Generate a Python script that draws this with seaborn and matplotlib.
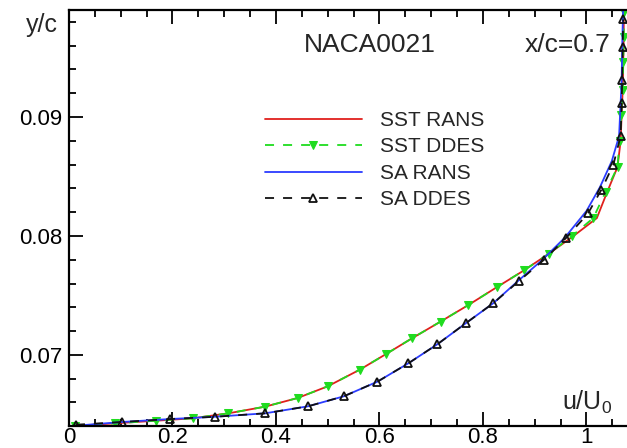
import matplotlib
matplotlib.use("Agg")
import matplotlib.pyplot as plt
from matplotlib.ticker import MultipleLocator
import seaborn as sns
import pandas as pd

# velocity profiles at x/c = 0.7, NACA0021
sst_dd_u = [0.0116, 0.089, 0.169, 0.239, 0.308, 0.379, 0.442, 0.500, 0.562, 0.613,
            0.663, 0.718, 0.772, 0.827, 0.879, 0.927, 0.972, 1.013, 1.037, 1.060,
            1.064, 1.067, 1.070, 1.071, 1.072, 1.072]
sst_dd_y = [0.06405, 0.06425, 0.06447, 0.06467, 0.06509, 0.06565, 0.06638, 0.06736,
            0.06876, 0.07008, 0.0714, 0.0728, 0.0742, 0.0757, 0.0771, 0.0785, 0.0800,
            0.0815, 0.0837, 0.0858, 0.0880, 0.0902, 0.0923, 0.0946, 0.0967, 0.0988]

sa_dd_u = [0.0135, 0.102, 0.196, 0.282, 0.379, 0.462, 0.531, 0.596, 0.656, 0.712,
           0.767, 0.820, 0.870, 0.918, 0.961, 1.003, 1.029, 1.052, 1.066, 1.068,
           1.069, 1.070, 1.071]
sa_dd_y = [0.06413, 0.06436, 0.06461, 0.0648, 0.06509, 0.06568, 0.06652, 0.06775,
           0.0693, 0.0709, 0.07267, 0.07435, 0.07623, 0.0780, 0.07985, 0.0819, 0.0839,
           0.0860, 0.0884, 0.0912, 0.0931, 0.0959, 0.0982]

sst_rans_u = [0.0, 0.089, 0.169, 0.239, 0.308, 0.379, 0.442, 0.500, 0.562, 0.613,
              0.663, 0.718, 0.772, 0.827, 0.879, 0.927, 0.975, 1.020, 1.040, 1.060,
              1.066, 1.068, 1.070, 1.071, 1.072, 1.072]
sst_rans_y = [0.06400, 0.06425, 0.06447, 0.06467, 0.06509, 0.06565, 0.06638, 0.06736,
              0.06876, 0.07008, 0.0714, 0.0728, 0.0742, 0.0757, 0.0771, 0.0785, 0.0800,
              0.0815, 0.0837, 0.0858, 0.0880, 0.0902, 0.0923, 0.0946, 0.0967, 0.0995]

sa_rans_u = [0.0, 0.102, 0.196, 0.282, 0.379, 0.462, 0.531, 0.596, 0.656, 0.712,
             0.767, 0.820, 0.868, 0.915, 0.958, 1.000, 1.026, 1.049, 1.063, 1.066,
             1.068, 1.069, 1.071]
sa_rans_y = [0.06400, 0.06436, 0.06461, 0.0648, 0.06509, 0.06568, 0.06652, 0.06775,
             0.0693, 0.0709, 0.07267, 0.07435, 0.07623, 0.0780, 0.07985, 0.0821, 0.0841,
             0.0863, 0.0884, 0.0912, 0.0931, 0.0959, 0.0995]

sns.set_style("ticks")
plt.rcParams['font.family'] = ['Liberation Sans', 'DejaVu Sans']
plt.rcParams['mathtext.default'] = 'regular'

fig = plt.figure(figsize=(6.27, 4.48), dpi=100)
ax = fig.add_axes([0.110, 0.0498, 0.890, 0.928])

d1 = pd.DataFrame({'u': sst_rans_u, 'y': sst_rans_y})
d2 = pd.DataFrame({'u': sst_dd_u, 'y': sst_dd_y})
d3 = pd.DataFrame({'u': sa_rans_u, 'y': sa_rans_y})
d4 = pd.DataFrame({'u': sa_dd_u, 'y': sa_dd_y})

sns.lineplot(data=d1, x='u', y='y', sort=False, estimator=None, ax=ax,
             color='#e0201c', lw=1.3, label='SST RANS')
sns.lineplot(data=d2, x='u', y='y', sort=False, estimator=None, ax=ax,
             color='#1fdc1f', lw=1.3, ls=(0, (5, 5)), marker='v', ms=5.5,
             mec='#1fdc1f', mfc='#1fdc1f', label='SST DDES')
sns.lineplot(data=d3, x='u', y='y', sort=False, estimator=None, ax=ax,
             color='#2b3cff', lw=1.3, label='SA RANS')
sns.lineplot(data=d4, x='u', y='y', sort=False, estimator=None, ax=ax,
             color='#111111', lw=1.3, ls=(0, (5, 5)), marker='^', ms=5.5,
             mec='#111111', mfc='none', mew=1.3, label='SA DDES')

ax.set_xlim(0, 1.0783)
ax.set_ylim(0.06405, 0.0990)
ax.xaxis.set_minor_locator(MultipleLocator(0.05))
ax.yaxis.set_minor_locator(MultipleLocator(0.002))
ax.set_xticks([0, 0.2, 0.4, 0.6, 0.8, 1.0])
ax.set_xticklabels(['0', '0.2', '0.4', '0.6', '0.8', '1'])
ax.set_yticks([0.07, 0.08, 0.09])
ax.set_yticklabels(['0.07', '0.08', '0.09'])
ax.tick_params(which='both', direction='in', top=True, right=False,
               width=1.3, labelsize=16, colors='black')
ax.tick_params(which='major', length=10)
ax.tick_params(which='minor', length=5)
ax.tick_params(axis='x', pad=1)
ax.tick_params(axis='y', pad=5)
for s in ['left', 'bottom', 'top']:
    ax.spines[s].set_linewidth(1.6)
    ax.spines[s].set_color('black')
ax.spines['right'].set_visible(False)

ax.set_xlabel('')
ax.set_ylabel('')
fig.text(42 / 627, 1 - 25 / 448, 'y/c', fontsize=18, ha='center', va='center')
ax.text(0.973, 0.055, 'u/U$_0$', transform=ax.transAxes, fontsize=18,
        ha='right', va='center')
ax.text(0.54, 0.916, 'NACA0021', transform=ax.transAxes, fontsize=19,
        ha='center', va='center')
ax.text(0.894, 0.916, 'x/c=0.7', transform=ax.transAxes, fontsize=19,
        ha='center', va='center')

ax.legend(loc='upper left', bbox_to_anchor=(0.351, 0.757), frameon=False,
          fontsize=15, handlelength=4.66, handletextpad=0.87, labelspacing=0.36,
          borderpad=0, borderaxespad=0, numpoints=1)

fig.savefig('out.png', dpi=100)
